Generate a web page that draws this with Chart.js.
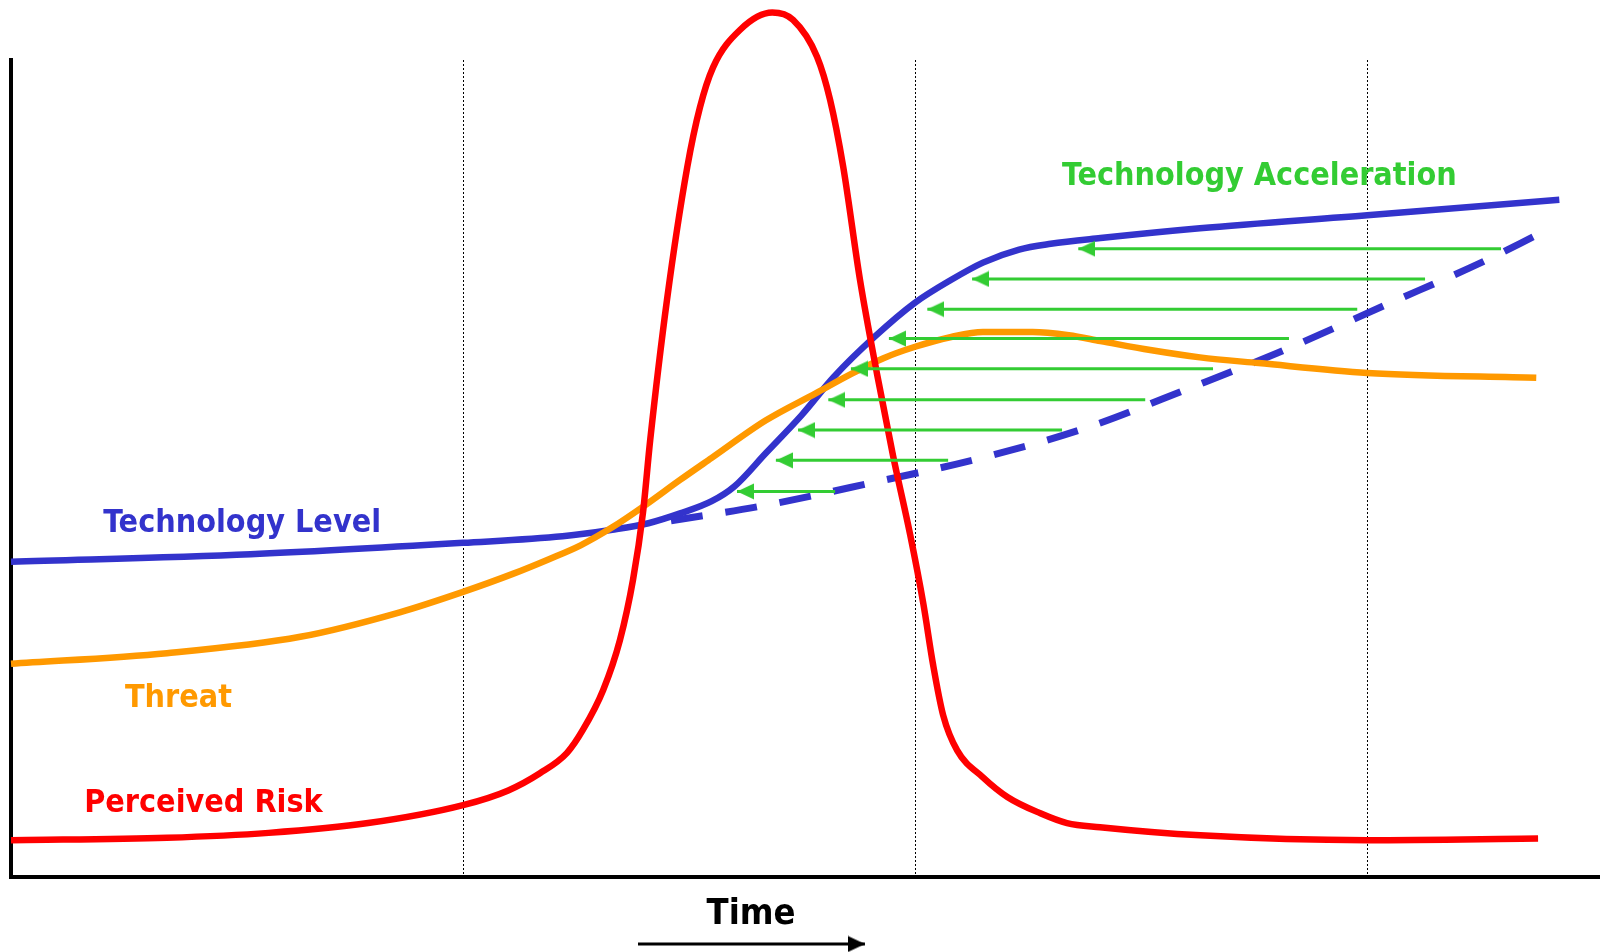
<!DOCTYPE html>
<html>
<head>
<meta charset="utf-8">
<script src="https://cdn.jsdelivr.net/npm/chart.js@4/dist/chart.umd.min.js"></script>
<style>
  html, body { margin: 0; padding: 0; background: #fff; }
  #wrap { width: 1600px; height: 952px; position: relative; }
</style>
</head>
<body>
<div id="wrap"><canvas id="c"></canvas></div>
<script>
// ---- Data (x in "time" units, gridlines at 1, 2, 3; y in arbitrary level units 0..100) ----
const techX = [0, 0.53, 1.0, 1.22, 1.33, 1.41, 1.48, 1.55, 1.60, 1.67, 1.75, 1.82, 1.91, 2.0, 2.08, 2.15, 2.23, 2.30, 2.41, 2.63, 3.0, 3.425];
const techY = [38.6, 39.5, 40.9, 41.7, 42.5, 43.3, 44.5, 46.0, 47.8, 51.9, 56.6, 61.2, 66.1, 70.3, 73.1, 75.2, 76.8, 77.5, 78.2, 79.4, 81.0, 82.9];

const projectedX = [1.46, 1.66, 1.90, 2.14, 2.38, 2.61, 2.80, 3.04, 3.26, 3.38];
const projectedY = [43.6, 45.4, 48.2, 51.2, 55.0, 59.9, 64.1, 70.0, 75.4, 78.7];

const threatX = [0, 0.345, 0.64, 0.86, 1.0, 1.11, 1.19, 1.26, 1.33, 1.40, 1.48, 1.55, 1.67, 1.78, 1.86, 1.93, 2.0, 2.08, 2.15, 2.26, 2.34, 2.41, 2.52, 2.63, 2.76, 3.0, 3.374];
const threatY = [26.1, 27.4, 29.4, 32.4, 34.9, 37.1, 38.9, 40.6, 42.8, 45.4, 48.6, 51.3, 55.9, 59.2, 61.6, 63.5, 64.9, 66.1, 66.7, 66.7, 66.3, 65.6, 64.5, 63.6, 62.9, 61.7, 61.1];

const riskX = [0, 0.345, 0.57, 0.79, 1.0, 1.10, 1.17, 1.23, 1.265, 1.31, 1.347, 1.376, 1.398, 1.414, 1.451, 1.496, 1.524, 1.553, 1.613, 1.684, 1.73, 1.783, 1.812, 1.841, 1.878, 1.916, 1.951, 1.989, 2.018, 2.04, 2.062, 2.093, 2.15, 2.204, 2.277, 2.336, 2.409, 2.631, 3.0, 3.378];
const riskY = [4.5, 4.8, 5.4, 6.6, 8.8, 10.6, 12.7, 15.2, 18.0, 22.9, 29.0, 36.4, 44.6, 53.5, 70.6, 86.9, 94.2, 99.1, 103.7, 105.8, 104.9, 100.4, 95.1, 86.9, 73.1, 61.5, 51.6, 41.9, 33.5, 25.9, 19.8, 15.5, 12.2, 9.8, 7.8, 6.6, 6.1, 5.1, 4.5, 4.7];

// acceleration arrows: level, start (projected side), end (accelerated side)
const accelY    = [76.9, 73.2, 69.5, 65.9, 62.2, 58.4, 54.7, 51.0, 47.2];
const accelFrom = [3.296, 3.128, 2.978, 2.827, 2.659, 2.509, 2.325, 2.073, 1.823];
const accelTo   = [2.361, 2.126, 2.027, 1.942, 1.858, 1.808, 1.741, 1.692, 1.606];

// time arrow below the axis
const timeArrowX = [1.387, 1.889];
const timeArrowY = -8.2;

const gridTicks = [1, 2, 3];

// series labels
const labelText  = ['Technology Level', 'Threat', 'Perceived Risk', 'Technology Acceleration'];
const labelX     = [0.204, 0.252, 0.162, 2.325];
const labelY     = [42.2, 20.8, 8.0, 84.7];
const labelColor = ['#3333CC', '#FF9900', '#FF0000', '#33CC33'];
const axisTitle  = 'Time';
const axisTitleX = 1.637;
const axisTitleY = -5.75;

// ---- helpers ----
function pts(xs, ys) { return xs.map((x, i) => ({ x: x, y: ys[i] })); }
function makeHead(color, pointRight) {
  const c = document.createElement('canvas');
  c.width = 34; c.height = 17;
  const g = c.getContext('2d');
  g.fillStyle = color;
  g.beginPath();
  if (pointRight) {
    g.moveTo(17, 8.5); g.lineTo(0, 0.5); g.lineTo(0, 16.5);
  } else {
    g.moveTo(17, 8.5); g.lineTo(34, 0.5); g.lineTo(34, 16.5);
  }
  g.closePath();
  g.fill();
  return c;
}
const greenHead = makeHead('#33CC33', false);
const blackHead = makeHead('#000000', true);

const FONT = "'DejaVu Sans Condensed', 'DejaVu Sans', sans-serif";

const datasets = [];
accelY.forEach((y, i) => {
  datasets.push({
    data: [{ x: accelFrom[i], y: y }, { x: accelTo[i], y: y }],
    borderColor: '#33CC33', borderWidth: 3, borderCapStyle: 'butt',
    pointRadius: [0, 8], pointStyle: greenHead, order: 0, clip: false
  });
});
datasets.push({
  data: [{ x: timeArrowX[0], y: timeArrowY }, { x: timeArrowX[1], y: timeArrowY }],
  borderColor: '#000', borderWidth: 3, borderCapStyle: 'butt',
  pointRadius: [0, 80], pointStyle: blackHead, order: 0, clip: false
});
datasets.push({ data: pts(riskX, riskY), borderColor: '#FF0000', borderWidth: 6.5, cubicInterpolationMode: 'monotone', pointRadius: 0, order: 1, clip: false, borderCapStyle: 'butt' });
datasets.push({ data: pts(threatX, threatY), borderColor: '#FF9900', borderWidth: 6.5, cubicInterpolationMode: 'monotone', pointRadius: 0, order: 2, clip: false, borderCapStyle: 'butt' });
datasets.push({ data: pts(projectedX, projectedY), borderColor: '#3333CC', borderWidth: 7, borderDash: [32, 23], cubicInterpolationMode: 'monotone', pointRadius: 0, order: 3, clip: false, borderCapStyle: 'butt' });
datasets.push({ data: pts(techX, techY), borderColor: '#3333CC', borderWidth: 6.5, cubicInterpolationMode: 'monotone', pointRadius: 0, order: 4, clip: false, borderCapStyle: 'butt' });

const labelPlugin = {
  id: 'labels',
  afterDatasetsDraw(chart) {
    const ctx = chart.ctx, xs = chart.scales.x, ys = chart.scales.y;
    ctx.save();
    ctx.textBaseline = 'alphabetic';
    ctx.font = 'bold 32px ' + FONT;
    ctx.textAlign = 'left';
    labelText.forEach((t, i) => {
      ctx.fillStyle = labelColor[i];
      ctx.fillText(t, xs.getPixelForValue(labelX[i]), ys.getPixelForValue(labelY[i]));
    });
    ctx.font = 'bold 36px ' + FONT;
    ctx.textAlign = 'center';
    ctx.fillStyle = '#000';
    ctx.fillText(axisTitle, xs.getPixelForValue(axisTitleX), ys.getPixelForValue(axisTitleY));
    ctx.restore();
  }
};

new Chart(document.getElementById('c'), {
  type: 'line',
  data: { datasets: datasets },
  options: {
    responsive: true, maintainAspectRatio: false, animation: false, devicePixelRatio: 1,
    layout: { autoPadding: false, padding: { left: 11, top: 60, right: 0, bottom: 75 } },
    plugins: { legend: { display: false }, tooltip: { enabled: false } },
    events: [],
    scales: {
      x: {
        type: 'linear', min: 0, max: 3.515, position: 'bottom',
        afterBuildTicks: (s) => { s.ticks = gridTicks.map(v => ({ value: v })); },
        ticks: { display: false },
        grid: { display: true, color: '#000', lineWidth: 1, drawTicks: false },
        border: { display: true, color: '#000', width: 4, dash: [2, 2] }
      },
      y: {
        type: 'linear', min: 0, max: 100,
        ticks: { display: false },
        grid: { display: false, drawTicks: false },
        border: { display: true, color: '#000', width: 4 }
      }
    }
  },
  plugins: [labelPlugin]
});
</script>
</body>
</html>
